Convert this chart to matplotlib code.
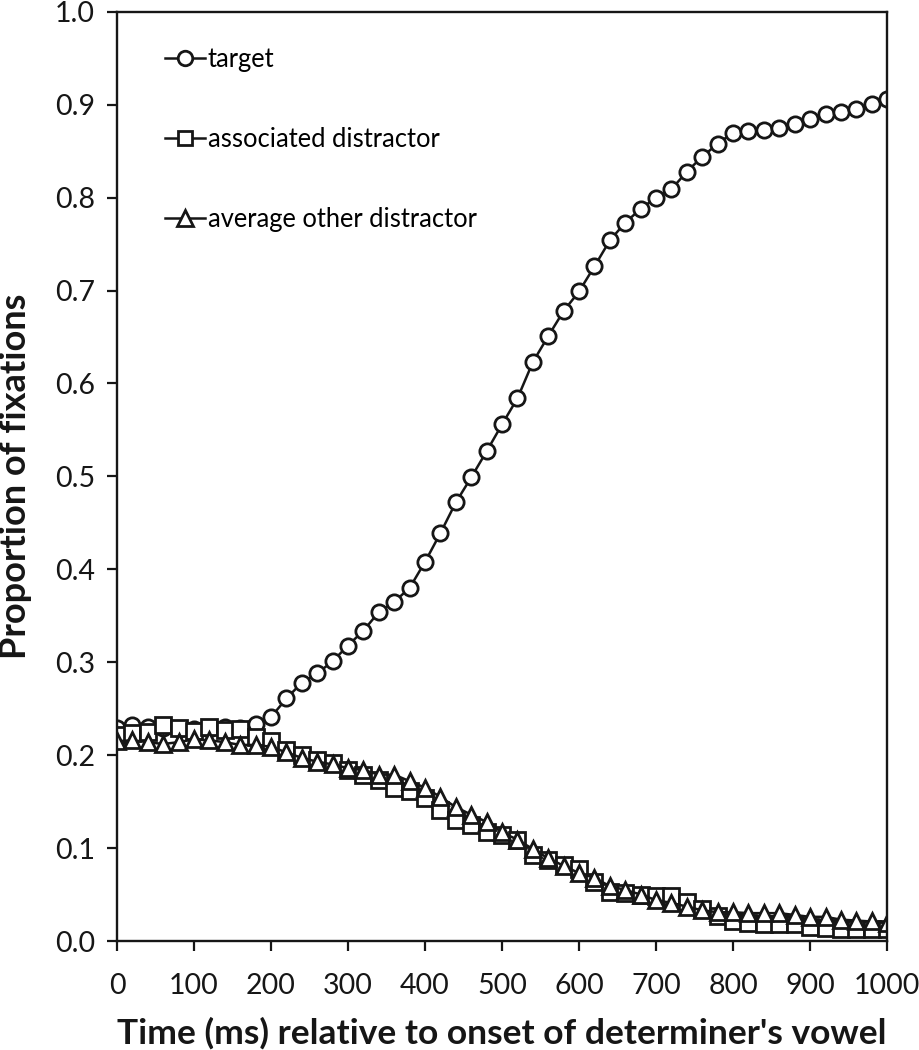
import numpy as np
import matplotlib
matplotlib.use("Agg")
import matplotlib.pyplot as plt
from matplotlib.ticker import FormatStrFormatter

# time bins (ms) relative to onset of determiner's vowel, 20 ms steps
time_ms = np.arange(0, 1001, 20)

target = [0.229, 0.232, 0.230, 0.229, 0.228, 0.228, 0.228, 0.230, 0.229, 0.234,
          0.241, 0.261, 0.278, 0.288, 0.301, 0.318, 0.334, 0.354, 0.365, 0.380,
          0.408, 0.439, 0.472, 0.499, 0.527, 0.556, 0.584, 0.623, 0.651, 0.678,
          0.699, 0.726, 0.754, 0.773, 0.788, 0.800, 0.809, 0.828, 0.844, 0.858,
          0.870, 0.872, 0.873, 0.875, 0.879, 0.885, 0.890, 0.892, 0.895, 0.901, 0.906]

assoc = [0.222, 0.224, 0.225, 0.232, 0.229, 0.226, 0.230, 0.227, 0.228, 0.220,
         0.215, 0.206, 0.200, 0.195, 0.192, 0.184, 0.179, 0.173, 0.165, 0.161,
         0.154, 0.141, 0.130, 0.125, 0.117, 0.114, 0.109, 0.093, 0.087, 0.082,
         0.077, 0.064, 0.053, 0.052, 0.050, 0.048, 0.048, 0.042, 0.034, 0.027,
         0.021, 0.019, 0.018, 0.018, 0.018, 0.015, 0.014, 0.013, 0.013, 0.013, 0.013]

other = [0.215, 0.216, 0.214, 0.212, 0.214, 0.217, 0.216, 0.214, 0.211, 0.211,
         0.209, 0.203, 0.197, 0.193, 0.190, 0.186, 0.184, 0.179, 0.179, 0.172,
         0.165, 0.155, 0.144, 0.136, 0.128, 0.117, 0.109, 0.099, 0.089, 0.081,
         0.073, 0.068, 0.059, 0.055, 0.050, 0.044, 0.041, 0.037, 0.033, 0.031,
         0.031, 0.030, 0.030, 0.030, 0.028, 0.026, 0.026, 0.023, 0.022, 0.021, 0.019]

series = [("target", target, "o"),
          ("associated distractor", assoc, "s"),
          ("average other distractor", other, "^")]

plt.rcParams["font.family"] = ["Lato", "DejaVu Sans"]
INK = "#161616"

fig = plt.figure(figsize=(9.19, 10.5), dpi=100)
ax = fig.add_axes([0.1273, 0.1038, 0.838, 0.885])

for lab, vals, mk in series:
    ms = 12 if mk == "^" else 11
    ax.plot(time_ms, vals, marker=mk, ms=ms, color=INK, lw=1.8,
            mfc="white", mec=INK, mew=2.0, label=lab)

ax.set_xlim(0, 1000)
ax.set_ylim(0, 1.0)
ax.set_xticks(np.arange(0, 1001, 100))
ax.set_yticks(np.arange(0, 1.01, 0.1))
ax.yaxis.set_major_formatter(FormatStrFormatter("%.1f"))
ax.tick_params(direction="out", length=7, width=1.6, labelsize=20.5, colors=INK)
ax.tick_params(axis="x", pad=16)
ax.tick_params(axis="y", pad=9)
for s in ax.spines.values():
    s.set_linewidth(1.7)
    s.set_color(INK)

ax.set_xlabel("Time (ms) relative to onset of determiner's vowel",
              fontsize=25.5, fontweight="bold", labelpad=13, color=INK)
ax.set_ylabel("Proportion of fixations", fontsize=26, fontweight="bold",
              labelpad=16, color=INK)

ax.legend(loc="upper left", bbox_to_anchor=(0.033, 0.987), frameon=False,
          fontsize=18.4, handlelength=1.55, handletextpad=0.1, labelspacing=2.15,
          markerscale=0.95)

fig.savefig("out.png", dpi=100)
